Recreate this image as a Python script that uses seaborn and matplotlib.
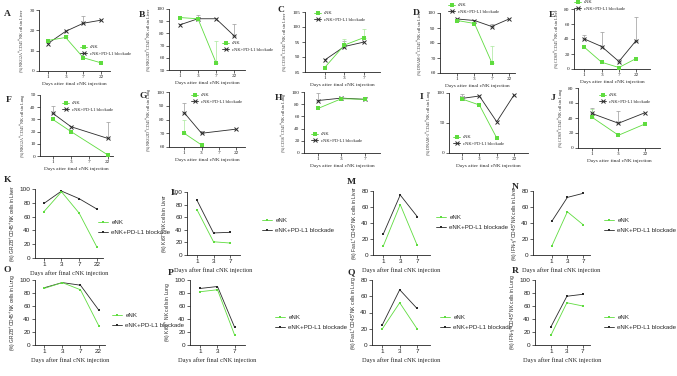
import numpy as np
import pandas as pd
import matplotlib
matplotlib.use("Agg")
from matplotlib import pyplot as plt
import seaborn as sns

# ---- data (None = no point at that day) ----
A_days = ["1", "3", "7", "22"]
A_cnk = [15, 16.5, 6.5, 4]
A_blk = [13.5, 19.5, 23.5, 25]
A_cnk_err = [0, 1.2, 2.5, 0]
A_blk_err = [0, 0, 3.5, 0]

B_days = ["1", "3", "7", "22"]
B_cnk = [93, 92, 56, None]
B_blk = [87, 92, 92, 78]
B_cnk_err = [0, 0, 18, 0]
B_blk_err = [0, 3, 0, 10]

C_days = ["1", "3", "7"]
C_cnk = [86.5, 94, 96.5]
C_blk = [89, 93.5, 95]
C_cnk_err = [0, 2, 3]
C_blk_err = [0, 2, 0]

D_days = ["1", "3", "7", "22"]
D_cnk = [95, 93, 67, None]
D_blk = [96, 95, 91, 96]
D_cnk_err = [0, 0, 11, 0]
D_blk_err = [0, 0, 2, 0]

E_days = ["1", "3", "7", "22"]
E_cnk = [29, 9, 2, 14]
E_blk = [40, 30, 10, 38]
E_cnk_err = [0, 0, 0, 0]
E_blk_err = [5, 20, 4, 31]

F_days = ["1", "3", "7", "22"]
F_cnk = [30, 20, None, 1]
F_blk = [35, 24, None, 14.5]
F_cnk_err = [0, 0, 0, 0]
F_blk_err = [6, 0, 0, 13.5]

G_days = ["1", "3", "7", "22"]
G_cnk = [70, 61.5, None, None]
G_blk = [85, 70, None, 73]
G_cnk_err = [10, 0, 0, 0]
G_blk_err = [7, 2, 0, 0]

H_days = ["1", "3", "7"]
H_cnk = [73, 89, 88]
H_blk = [86, 90, 88]
H_cnk_err = [0, 0, 0]
H_blk_err = [13, 0, 0]

I_days = ["1", "3", "7", "22"]
I_cnk = [90, 80, 25, None]
I_blk = [91, 95, 52, 97]
I_cnk_err = [0, 0, 0, 0]
I_blk_err = [8, 0, 0, 0]

J_days = ["1", "3", "22"]
J_cnk = [41, 17, 32]
J_blk = [46, 33, 47]
J_cnk_err = [11, 0, 0]
J_blk_err = [8, 16, 0]

K_days = ["1", "3", "7", "22"]
K_cnk = [67, 96, 65, 16]
K_blk = [79, 97, 86, 71]

L_days = ["1", "3", "7"]
L_cnk = [72, 21, 19]
L_blk = [87, 35, 36]

M_days = ["1", "3", "7"]
M_cnk = [11, 63, 12]
M_blk = [26, 75, 48]

N_days = ["1", "3", "7"]
N_cnk = [11, 54, 38]
N_blk = [42, 72, 77]

O_days = ["1", "3", "7", "22"]
O_cnk = [87, 96, 85, 30]
O_blk = [88, 96, 92, 54]

P_days = ["1", "3", "7"]
P_cnk = [82, 85, 15]
P_blk = [87, 90, 27]

Q_days = ["1", "3", "7"]
Q_cnk = [20, 52, 20]
Q_blk = [25, 68, 45]

R_days = ["1", "3", "7"]
R_cnk = [15, 65, 60]
R_blk = [28, 75, 78]

W, H = 677, 376
GREEN = "#5fdc3f"
GREEN_ERR = "#a8e89a"
DARK = "#2a2a2a"
GREY_ERR = "#9a9a9a"
SERIF = ["Liberation Serif", "DejaVu Serif"]
SANS = ["Liberation Sans", "DejaVu Sans"]

sns.set_style("ticks")
plt.rcParams["font.family"] = SERIF
plt.rcParams["mathtext.fontset"] = "stix"

fig = plt.figure(figsize=(W / 100, H / 100), dpi=100)


def px_axes(l, t, r, b):
    return fig.add_axes([l / W, 1 - b / H, (r - l) / W, (b - t) / H])


def panel(letter, days, cnk, blk, rect, xlim, ylim, yticks, ylabel, leg_at, letter_at,
          cnk_err=None, blk_err=None, modern=False):
    ax = px_axes(*rect)
    pos = np.arange(len(days))
    lab1 = "eNK" if modern else "cNK"
    lab2 = "eNK+PD-L1 blockade" if modern else "cNK+PD-L1 blockade"
    specs = [(blk, blk_err, DARK, GREY_ERR, "s" if modern else "x", lab2),
             (cnk, cnk_err, GREEN, GREEN_ERR, "s", lab1)]
    for vals, err, col, ecol, mk, lab in specs:
        df = pd.DataFrame({"pos": pos, "val": pd.array(vals, dtype="Float64")}).dropna()
        df["val"] = df["val"].astype(float)
        if err is not None:
            e = pd.DataFrame({"pos": pos, "val": pd.array(vals, dtype="Float64"), "err": err}).dropna()
            e = e[e["err"] > 0]
            if len(e):
                ax.errorbar(e["pos"], e["val"].astype(float), yerr=[np.zeros(len(e)), e["err"]],
                            fmt="none", ecolor=ecol, elinewidth=0.5, capsize=1.5, capthick=0.5, zorder=1)
        if mk == "x":
            msize, mew = 3.2, 0.7
        else:
            msize, mew = (2.0, 0) if modern else (2.4, 0)
        sns.lineplot(data=df, x="pos", y="val", ax=ax, color=col, marker=mk, label=lab,
                     markersize=msize, markeredgewidth=mew, markeredgecolor=col,
                     linewidth=0.6, legend=False, zorder=3)
    ax.set_xlim(*xlim)
    ax.set_ylim(*ylim)
    ax.set_yticks(yticks)
    ax.set_xticks(pos)
    ax.set_xticklabels(days)
    fam = SANS if modern else SERIF
    fs = 4.6 if modern else 3.8
    for t in ax.get_xticklabels() + ax.get_yticklabels():
        t.set_family(fam)
        t.set_fontsize(fs)
    ax.set_xlabel("Days after final cNK injection", family=SERIF,
                  fontsize=4.6 if modern else 3.8, labelpad=2)
    ax.set_ylabel(ylabel, family=fam, fontsize=3.5 if modern else 2.9, labelpad=1.0)
    ax.tick_params(length=2, width=0.5, pad=1.2, colors="#222222")
    for s in ["left", "bottom"]:
        ax.spines[s].set_linewidth(0.6)
        ax.spines[s].set_color("#222222")
    sns.despine(ax=ax)
    handles, labels = ax.get_legend_handles_labels()
    ax.legend(handles[::-1], labels[::-1], loc="upper left",
              bbox_to_anchor=(leg_at[0] / W, 1 - leg_at[1] / H), bbox_transform=fig.transFigure,
              frameon=False, prop={"family": fam, "size": 4.4 if modern else 3.3},
              handlelength=1.6, handletextpad=0.6, labelspacing=0.7 if modern else 0.5,
              borderpad=0, borderaxespad=0)
    fig.text(letter_at[0] / W, 1 - letter_at[1] / H, letter, family=SERIF, fontweight="bold",
             fontsize=6.8, va="center", ha="left")
    return ax


sup = "$^{+}$"
panel("A", A_days, A_cnk, A_blk, (39, 10, 110, 71), (-0.5, 3.5), (0, 30), [0, 10, 20, 30],
      f"(%) NKG2A{sup}CD45{sup}NK cells in Liver", (80, 45), (4, 14), A_cnk_err, A_blk_err)
panel("B", B_days, B_cnk, B_blk, (169, 9, 245, 70), (-0.6, 3.6), (50, 100), [50, 60, 70, 80, 90, 100],
      f"(%) NKG2D{sup}CD45{sup}NK cells in Liver", (222, 41), (139, 15), B_cnk_err, B_blk_err)
panel("C", C_days, C_cnk, C_blk, (305, 12, 380, 72), (-1.0, 2.8), (85, 105), [85, 90, 95, 100, 105],
      f"(%) CD16{sup}CD45{sup}NK cells in Liver", (314, 11), (277, 10), C_cnk_err, C_blk_err)
panel("D", D_days, D_cnk, D_blk, (440, 13, 515, 73), (-1.0, 3.35), (60, 100), [60, 70, 80, 90, 100],
      f"(%) DNAM-1{sup}CD45{sup}NK cells in Liver", (448, 3), (413, 13), D_cnk_err, D_blk_err)
panel("E", E_days, E_cnk, E_blk, (574, 9, 650, 69), (-0.6, 3.8), (0, 80), [0, 20, 40, 60, 80],
      f"(%) CD69{sup}CD45{sup}NK cells in Liver", (574, 0), (549, 15), E_cnk_err, E_blk_err)
panel("F", F_days, F_cnk, F_blk, (40, 95, 113, 156), (-0.7, 3.3), (0, 50), [0, 10, 20, 30, 40, 50],
      f"(%) NKG2A{sup}CD45{sup}NK cells in Lung", (62, 101), (6, 100), F_cnk_err, F_blk_err)
panel("G", G_days, G_cnk, G_blk, (169, 92, 245, 147), (-0.87, 3.5), (60, 100), [60, 70, 80, 90, 100],
      f"(%) NKG2D{sup}CD45{sup}NK cells in Lung", (191, 93), (139, 96), G_cnk_err, G_blk_err)
panel("H", H_days, H_cnk, H_blk, (304, 92, 380, 153), (-0.6, 2.65), (0, 100), [0, 20, 40, 60, 80, 100],
      f"(%) CD16{sup}CD45{sup}NK cells in Lung", (311, 132), (275, 98), H_cnk_err, H_blk_err)
panel("I", I_days, I_cnk, I_blk, (449, 93, 528, 153), (-0.75, 3.8), (0, 100), [0, 50, 100],
      f"(%) DNAM-1{sup}CD45{sup}NK cells in Lung", (453, 135), (420, 97), I_cnk_err, I_blk_err)
panel("J", J_days, J_cnk, J_blk, (578, 88, 660, 148), (-0.53, 2.57), (0, 80), [0, 20, 40, 60, 80],
      f"(%) CD69{sup}CD45{sup}NK cells in Lung", (599, 93), (551, 98), J_cnk_err, J_blk_err)

panel("K", K_days, K_cnk, K_blk, (35, 189, 103, 258), (-0.5, 3.35), (0, 100), [0, 20, 40, 60, 80, 100],
      f"(%) GRZB{sup}CD45{sup}NK cells in Liver", (98, 220), (4, 180), modern=True)
panel("L", L_days, L_cnk, L_blk, (187, 192, 240, 255), (-0.6, 2.6), (0, 100), [0, 20, 40, 60, 80, 100],
      f"(%) Ki67{sup} NK cells in Liver", (262, 218), (171, 193), modern=True)
panel("M", M_days, M_cnk, M_blk, (373, 191, 430, 255), (-0.6, 2.75), (0, 80), [0, 20, 40, 60, 80],
      f"(%) FasL{sup}CD45{sup}NK cells in Liver", (436, 215), (347, 182), modern=True)
panel("N", N_days, N_cnk, N_blk, (533, 191, 590, 255), (-1.2, 2.45), (0, 80), [0, 20, 40, 60, 80],
      f"(%) IFN-γ{sup}CD45{sup}NK cells in Liver", (604, 218), (512, 187), modern=True)

panel("O", O_days, O_cnk, O_blk, (35, 280, 105, 345), (-0.5, 3.35), (0, 100), [0, 20, 40, 60, 80, 100],
      f"(%) GRZB{sup}CD45{sup}NK cells in Lung", (112, 313), (4, 270), modern=True)
panel("P", P_days, P_cnk, P_blk, (190, 280, 245, 345), (-0.6, 2.6), (0, 100), [0, 20, 40, 60, 80, 100],
      f"(%) Ki67{sup} NK cells in Lung", (275, 315), (168, 273), modern=True)
panel("Q", Q_days, Q_cnk, Q_blk, (372, 280, 430, 345), (-0.6, 2.75), (0, 80), [0, 20, 40, 60, 80],
      f"(%) FasL{sup}CD45{sup}NK cells in Lung", (440, 315), (347, 272), modern=True)
panel("R", R_days, R_cnk, R_blk, (535, 280, 590, 345), (-1.0, 2.45), (0, 100), [0, 20, 40, 60, 80, 100],
      f"(%) IFN-γ{sup}CD45{sup}NK cells in Lung", (604, 315), (512, 271), modern=True)

fig.savefig("out.png", dpi=100)
